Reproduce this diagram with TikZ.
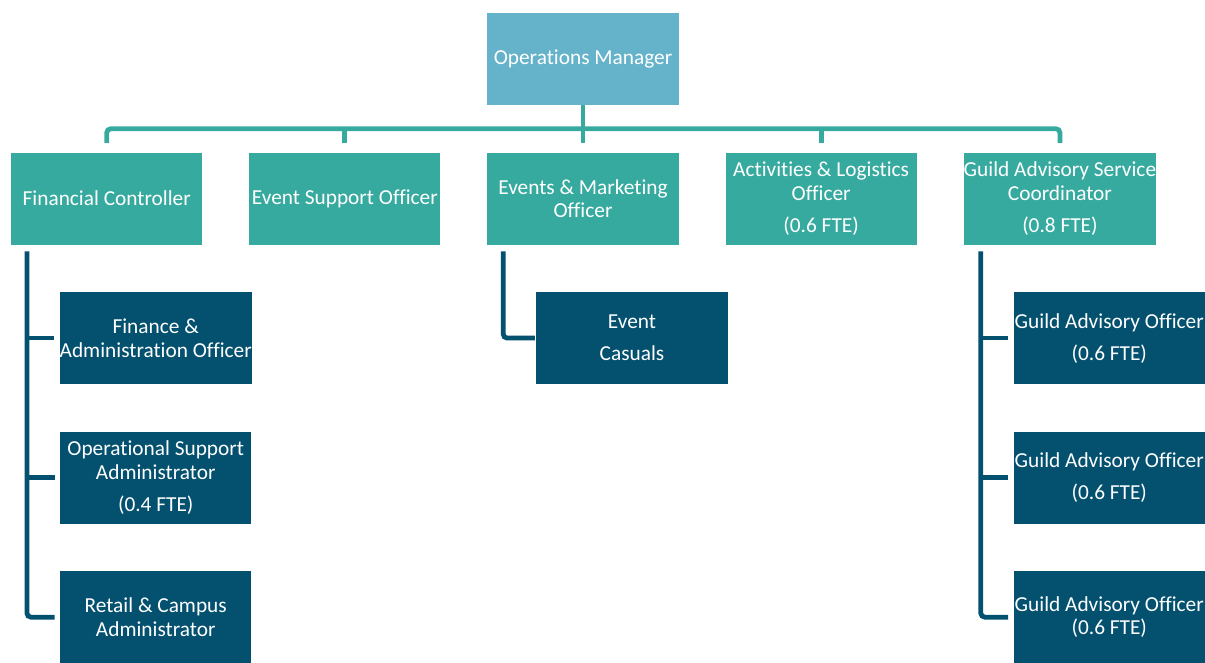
\documentclass[tikz,border=0pt]{standalone}
\usepackage{fontspec}
\setmainfont{Carlito}[Ligatures=NoCommon]
\usetikzlibrary{positioning, calc}
\definecolor{mgrblue}{HTML}{65B3CA}
\definecolor{leadteal}{HTML}{37AAA0}
\definecolor{staffblue}{HTML}{03506F}

\begin{document}
\begin{tikzpicture}[x=0.75pt, y=-0.75pt, node distance=34.9pt]
\tikzstyle{manager} = [rectangle, minimum width=143.3pt, minimum height=69pt, inner sep=0pt, align=center, text=white, fill=mgrblue, font=\fontsize{16}{17.6}\selectfont]
\tikzstyle{lead} = [manager, fill=leadteal]
\tikzstyle{staff} = [manager, fill=staffblue]
\tikzstyle{leadline} = [draw=leadteal, line width=3.6pt, rounded corners=3pt]
\tikzstyle{staffline} = [draw=staffblue, line width=3.6pt, rounded corners=3pt]

\useasboundingbox (0,0) rectangle (1205,662);

% Top of the tree
\node (mgr) [manager] at (583,59) {Operations Manager};

% Team leads
\node (evm) [lead, below=35.25pt of mgr] {Events \& Marketing\\Officer};
\node (eso) [lead, left=of evm] {Event Support Officer};
\node (fic) [lead, left=of eso] {Financial Controller};
\node (alo) [lead, right=of evm] {Activities \& Logistics\\Officer\\[6.4pt](0.6 FTE)};
\node (gas) [lead, right=of alo] {Guild Advisory Service\\Coordinator\\[6.4pt](0.8 FTE)};

% Staff under the leads
\node (fao) [staff, below=35.25pt of fic, xshift=36.75pt] {Finance \&\\Administration Officer};
\node (osa) [staff, below=35.25pt of fao] {Operational Support\\Administrator\\[6.4pt](0.4 FTE)};
\node (rca) [staff, below=35.25pt of osa] {Retail \& Campus\\Administrator};
\node (cas) [staff, below=35.25pt of evm, xshift=36.75pt] {Event\\[6.4pt]Casuals};
\node (gao1) [staff, below=35.25pt of gas, xshift=37pt] {Guild Advisory Officer\\[6.4pt](0.6 FTE)};
\node (gao2) [staff, below=35.25pt of gao1] {Guild Advisory Officer\\[6.4pt](0.6 FTE)};
\node (gao3) [staff, below=35.25pt of gao2] {Guild Advisory Officer\\(0.6 FTE)};

% Bus from the manager to the leads
\coordinate (bus) at ($(mgr.south)!0.5!(evm.north)$);
\draw[leadline] (mgr.south) -- (bus);
\draw[leadline, shorten <=7pt, shorten >=7pt] (fic.north) |- (bus) -| (gas.north);
\foreach \lead in {eso, evm, alo} {
    \draw[leadline, shorten <=7pt] (\lead.north) -- (\lead.north |- bus);
}

% Spines down to the staff
\coordinate (ficspine) at ([xshift=12pt, yshift=-5pt]fic.south west);
\draw[staffline] (ficspine) |- ([xshift=-4pt]rca.west);
\foreach \staff in {fao, osa} {
    \draw[staffline] ([xshift=-4pt]\staff.west) -- (\staff.west -| ficspine);
}
\coordinate (evmspine) at ([xshift=12pt, yshift=-5pt]evm.south west);
\draw[staffline] (evmspine) |- ([xshift=-1pt]cas.west);
\coordinate (gasspine) at ([xshift=13pt, yshift=-5pt]gas.south west);
\draw[staffline] (gasspine) |- ([xshift=-4pt]gao3.west);
\foreach \staff in {gao1, gao2} {
    \draw[staffline] ([xshift=-4pt]\staff.west) -- (\staff.west -| gasspine);
}

\end{tikzpicture}
\end{document}
